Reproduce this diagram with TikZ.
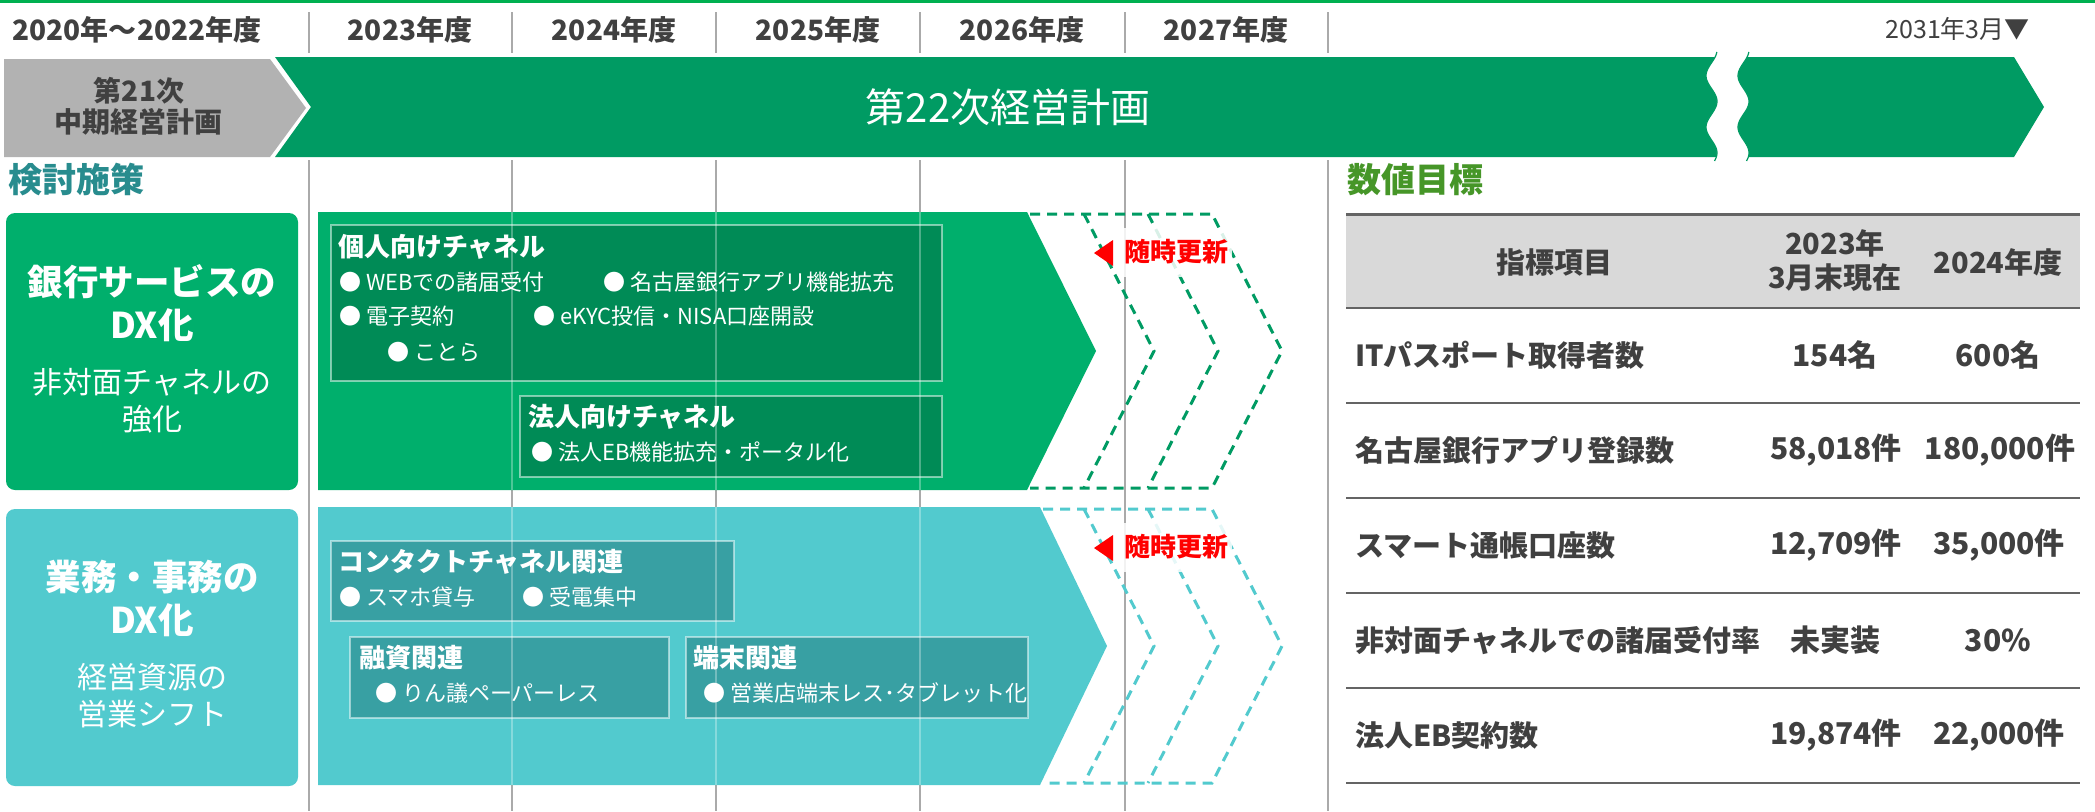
\documentclass[tikz,border=0pt]{standalone}
\usepackage{fontspec}
\setmainfont{Noto Sans CJK JP}
\definecolor{barG}{RGB}{0,155,99}
\definecolor{rowG}{RGB}{0,175,108}
\definecolor{inG}{RGB}{0,139,86}
\definecolor{tealC}{RGB}{82,202,206}
\definecolor{inT}{RGB}{56,160,163}
\definecolor{txtG}{RGB}{64,64,64}
\definecolor{chevG}{RGB}{178,178,178}
\definecolor{topG}{RGB}{0,176,80}
\definecolor{kentoC}{RGB}{40,140,142}
\definecolor{suchiC}{RGB}{70,150,40}
\definecolor{hdrG}{RGB}{217,217,217}
\definecolor{sepG}{RGB}{170,170,170}
\definecolor{lineG}{RGB}{100,100,100}
\definecolor{redC}{RGB}{255,0,0}
\newcommand\fsz[1]{\fontsize{#1}{#1}\selectfont\rule[-0.12em]{0pt}{1em}}
\begin{document}
\begin{tikzpicture}[x=1pt,y=-1pt,
  lbl/.style={inner sep=0pt,text=txtG},
  wl/.style={inner sep=0pt,text=white},
  dsh/.style={line width=3pt,dash pattern=on 10pt off 7pt},
  sepl/.style={draw=sepG,line width=1.5pt},
  ovl/.style={draw=white,draw opacity=0.3,line width=1.5pt},
  ibox/.style={draw=white,draw opacity=0.5,line width=1.5pt},
  tline/.style={draw=lineG,line width=2pt}]
\useasboundingbox (0,0) rectangle (2095,811);
\fill[white] (0,0) rectangle (2095,811);
\fill[topG] (0,0) rectangle (2095,3);
% grid lines
\foreach \xx in {309,512,716,920,1125,1328}{
  \draw[sepl] (\xx,12) -- (\xx,53);
  \draw[sepl] (\xx,160) -- (\xx,811);
}
% year header
\node[lbl] (y0) at (137,30) {\bfseries\fsz{28}2020年～2022年度};
\node[lbl] (y1) at (410,30) {\bfseries\fsz{28}2023年度};
\node[lbl] (y2) at (614,30) {\bfseries\fsz{28}2024年度};
\node[lbl] (y3) at (818,30) {\bfseries\fsz{28}2025年度};
\node[lbl] (y4) at (1022,30) {\bfseries\fsz{28}2026年度};
\node[lbl] (y5) at (1226,30) {\bfseries\fsz{28}2027年度};
\node[lbl,anchor=east] (y6) at (2030,29) {\fsz{25}2031年3月▼};
% plan bars
\fill[chevG] (4,59) -- (270,59) -- (306,108) -- (270,157) -- (4,157) -- cycle;
\node[lbl] (p21a) at (139,91) {\bfseries\fsz{28}第21次};
\node[lbl] (p21b) at (138,122) {\bfseries\fsz{28}中期経営計画};
\fill[barG] (275,57) -- (2014,57) -- (2044,107) -- (2014,157) -- (275,157) -- (311,107) -- cycle;
\fill[white] plot[domain=52:161,samples=60] ({1711.5+5.5*cos(7*(\x-50))},{\x})
  -- plot[domain=161:52,samples=60] ({1743.5+5.5*cos(7*(\x-50))},{\x}) -- cycle;
\draw[barG,line width=1.2pt] plot[domain=52:161,samples=60] ({1711.5+5.5*cos(7*(\x-50))},{\x});
\draw[barG,line width=1.2pt] plot[domain=52:161,samples=60] ({1743.5+5.5*cos(7*(\x-50))},{\x});
\node[wl] (p22) at (1008,107) {\fsz{40}第22次経営計画};
% section titles
\node[inner sep=0pt,text=kentoC,anchor=west] (kt) at (8,180) {\bfseries\fsz{34}検討施策};
\node[inner sep=0pt,text=suchiC,anchor=west] (sm) at (1347,180) {\bfseries\fsz{34}数値目標};
% left boxes
\fill[rowG,rounded corners=9pt] (6,213) rectangle (298,490);
\node[wl] (l1a) at (152,282) {\bfseries\fsz{35.5}銀行サービスの};
\node[wl] (l1b) at (152,325) {\bfseries\fsz{35.5}DX化};
\node[wl] (l1c) at (152,382) {\fsz{30}非対面チャネルの};
\node[wl] (l1d) at (152,419) {\fsz{30}強化};
\fill[tealC,rounded corners=9pt] (6,509) rectangle (298,786);
\node[wl] (l2a) at (152,577) {\bfseries\fsz{35.5}業務・事務の};
\node[wl] (l2b) at (152,620) {\bfseries\fsz{35.5}DX化};
\node[wl] (l2c) at (152,677) {\fsz{30}経営資源の};
\node[wl] (l2d) at (152,714) {\fsz{30}営業シフト};
% row shapes
\fill[rowG] (318,212) -- (1027,212) -- (1096,351) -- (1027,490) -- (318,490) -- cycle;
\fill[tealC] (318,507) -- (1040,507) -- (1107,646) -- (1040,785) -- (318,785) -- cycle;
% dashed chevrons row 1
\draw[dsh,barG] (1030,214) -- (1212,214) -- (1282,351) -- (1212,488) -- (1030,488);
\draw[dsh,barG] (1084,214) -- (1154,351) -- (1084,488);
\draw[dsh,barG] (1148,214) -- (1218,351) -- (1148,488);
% dashed chevrons row 2
\draw[dsh,tealC] (1043,509) -- (1212,509) -- (1282,646) -- (1212,783) -- (1043,783);
\draw[dsh,tealC] (1084,509) -- (1154,646) -- (1084,783);
\draw[dsh,tealC] (1148,509) -- (1218,646) -- (1148,783);
% inner boxes row 1
\filldraw[fill=inG,ibox] (331,225) rectangle (942,381);
\node[wl,anchor=west] (a0) at (338,247) {\bfseries\fsz{26}個人向けチャネル};
\node[wl,anchor=west] (a1) at (339,282) {\fsz{22}● WEBでの諸届受付};
\node[wl,anchor=west] (a2) at (603,282) {\fsz{22}● 名古屋銀行アプリ機能拡充};
\node[wl,anchor=west] (a3) at (339,316) {\fsz{22}● 電子契約};
\node[wl,anchor=west] (a4) at (533,316) {\fsz{22}● eKYC投信・NISA口座開設};
\node[wl,anchor=west] (a5) at (387,352) {\fsz{22}● ことら};
\filldraw[fill=inG,ibox] (520,396) rectangle (942,477);
\node[wl,anchor=west] (b0) at (528,417) {\bfseries\fsz{26}法人向けチャネル};
\node[wl,anchor=west] (b1) at (531,452) {\fsz{22}● 法人EB機能拡充・ポータル化};
% inner boxes row 2
\filldraw[fill=inT,ibox] (331,541) rectangle (734,621);
\node[wl,anchor=west] (c0) at (338,562) {\bfseries\fsz{26}コンタクトチャネル関連};
\node[wl,anchor=west] (c1) at (339,597) {\fsz{22}● スマホ貸与};
\node[wl,anchor=west] (c2) at (522,597) {\fsz{22}● 受電集中};
\filldraw[fill=inT,ibox] (350,637) rectangle (669,718);
\node[wl,anchor=west] (d0) at (359,658) {\bfseries\fsz{26}融資関連};
\node[wl,anchor=west] (d1) at (375,693) {\fsz{22}● りん議ペーパーレス};
\filldraw[fill=inT,ibox] (686,637) rectangle (1028,718);
\node[wl,anchor=west] (e0) at (693,658) {\bfseries\fsz{26}端末関連};
\node[wl,anchor=west] (e1) at (703,693) {\fsz{22}● 営業店端末レス･タブレット化};
% light grid overlay on shapes
\foreach \xx in {512,716,920}{
  \draw[ovl] (\xx,212) -- (\xx,490);
  \draw[ovl] (\xx,507) -- (\xx,785);
}
% update labels
\fill[redC] (1094,253) -- (1113,240) -- (1113,266) -- cycle;
\fill[white,opacity=0.85] (1118,228) rectangle (1232,277);
\node[inner sep=0pt,text=redC,anchor=west] (u1) at (1124,252) {\bfseries\fsz{26}随時更新};
\fill[redC] (1094,548) -- (1113,535) -- (1113,561) -- cycle;
\fill[white,opacity=0.85] (1118,523) rectangle (1232,572);
\node[inner sep=0pt,text=redC,anchor=west] (u2) at (1124,547) {\bfseries\fsz{26}随時更新};
% table
\fill[hdrG] (1346,214) rectangle (2080,308);
\draw[draw=lineG,line width=3pt] (1346,214) -- (2080,214);
\foreach \yy in {308,403,498,593,688,783}{
  \draw[tline] (1346,\yy) -- (2080,\yy);
}
\node[lbl] (h1) at (1554,262) {\bfseries\fsz{29}指標項目};
\node[lbl] (h2a) at (1835,243) {\bfseries\fsz{29}2023年};
\node[lbl] (h2b) at (1835,277) {\bfseries\fsz{29}3月末現在};
\node[lbl] (h3) at (1998,262) {\bfseries\fsz{29}2024年度};
\node[lbl,anchor=west] (r1) at (1355,355) {\bfseries\fsz{29}ITパスポート取得者数};
\node[lbl] (r1a) at (1835,355) {\bfseries\fsz{30}154名};
\node[lbl] (r1b) at (1998,355) {\bfseries\fsz{30}600名};
\node[lbl,anchor=west] (r2) at (1355,450) {\bfseries\fsz{29}名古屋銀行アプリ登録数};
\node[lbl] (r2a) at (1836,450) {\bfseries\fsz{30}58,018件};
\node[lbl] (r2b) at (2000,450) {\bfseries\fsz{30}180,000件};
\node[lbl,anchor=west] (r3) at (1355,545) {\bfseries\fsz{29}スマート通帳口座数};
\node[lbl] (r3a) at (1836,545) {\bfseries\fsz{30}12,709件};
\node[lbl] (r3b) at (1999,545) {\bfseries\fsz{30}35,000件};
\node[lbl,anchor=west] (r4) at (1355,640) {\bfseries\fsz{29}非対面チャネルでの諸届受付率};
\node[lbl] (r4a) at (1835,640) {\bfseries\fsz{30}未実装};
\node[lbl] (r4b) at (1998,640) {\bfseries\fsz{30}30\%};
\node[lbl,anchor=west] (r5) at (1355,735) {\bfseries\fsz{29}法人EB契約数};
\node[lbl] (r5a) at (1836,735) {\bfseries\fsz{30}19,874件};
\node[lbl] (r5b) at (1999,735) {\bfseries\fsz{30}22,000件};
\end{tikzpicture}
\end{document}
